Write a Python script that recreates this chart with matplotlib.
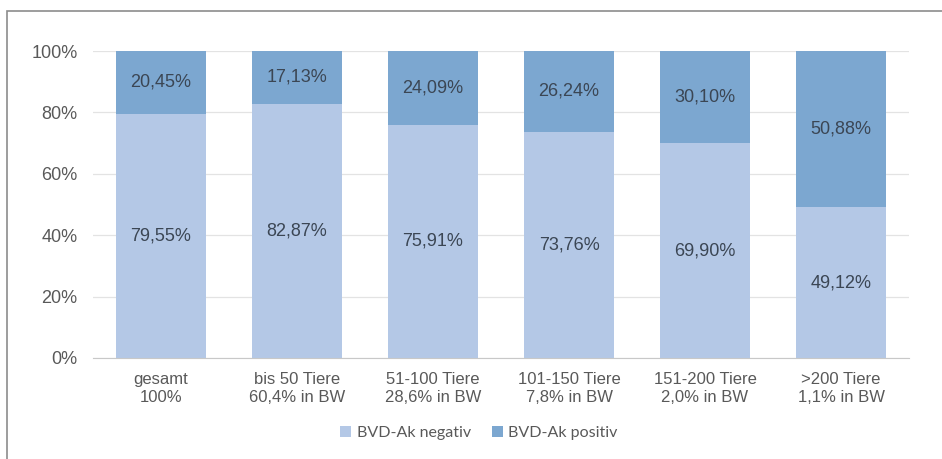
import numpy as np
import matplotlib.pyplot as plt
from matplotlib.patches import Rectangle

plt.rcParams['font.family'] = ['Liberation Sans', 'DejaVu Sans']

# Gruppen nach Bestandsgröße
categories = ['gesamt\n100%', 'bis 50 Tiere\n60,4% in BW', '51-100 Tiere\n28,6% in BW',
              '101-150 Tiere\n7,8% in BW', '151-200 Tiere\n2,0% in BW', '>200 Tiere\n1,1% in BW']
negativ = [79.55, 82.87, 75.91, 73.76, 69.90, 49.12]
positiv = [20.45, 17.13, 24.09, 26.24, 30.10, 50.88]
series_names = ['BVD-Ak negativ', 'BVD-Ak positiv']

c_neg = '#b4c8e6'
c_pos = '#7ca7d0'

fig = plt.figure(figsize=(9.42, 4.59), dpi=100)
ax = fig.add_axes([93 / 942, 1 - 358 / 459, 816 / 942, 307 / 459])

x = np.arange(len(categories))
ax.bar(x, negativ, width=0.66, color=c_neg, label=series_names[0], zorder=2)
ax.bar(x, positiv, width=0.66, bottom=negativ, color=c_pos, label=series_names[1], zorder=2)

def fmt(v):
    return f'{v:.2f}'.replace('.', ',') + '%'

for i in range(len(x)):
    ax.text(x[i], negativ[i] / 2, fmt(negativ[i]), ha='center', va='center',
            fontsize=13, color='#3b4654', zorder=3)
    ax.text(x[i], negativ[i] + positiv[i] / 2, fmt(positiv[i]), ha='center', va='center',
            fontsize=13, color='#3b4654', zorder=3)

ax.set_xlim(-0.5, len(x) - 0.5)
ax.set_ylim(0, 100)
ax.set_yticks([0, 20, 40, 60, 80, 100])
ax.set_yticklabels(['0%', '20%', '40%', '60%', '80%', '100%'], fontsize=13)
ax.set_xticks(x)
ax.set_xticklabels(categories, linespacing=1.3, fontsize=12)
ax.tick_params(length=0, labelcolor='#595959')
ax.tick_params(axis='y', pad=11)
ax.tick_params(axis='x', pad=10)
ax.grid(axis='y', color='#e3e3e3', linewidth=0.9, zorder=0)
for s in ['top', 'right', 'left']:
    ax.spines[s].set_visible(False)
ax.spines['bottom'].set_color('#c8c8c8')

ax.legend(loc='center', bbox_to_anchor=(0.473, -0.245), ncol=2, frameon=False,
          prop={'family': 'Lato', 'size': 11.5}, labelcolor='#595959',
          handlelength=0.7, handleheight=0.7, columnspacing=1.3, handletextpad=0.35)

# Rahmen um die Grafik
fig.patches.append(Rectangle((7 / 942, -0.1), 1.2, 1 - 11 / 459 + 0.1, transform=fig.transFigure,
                             fill=False, edgecolor='#8c8c8c', linewidth=1.2))

fig.savefig('out.png', dpi=100)
